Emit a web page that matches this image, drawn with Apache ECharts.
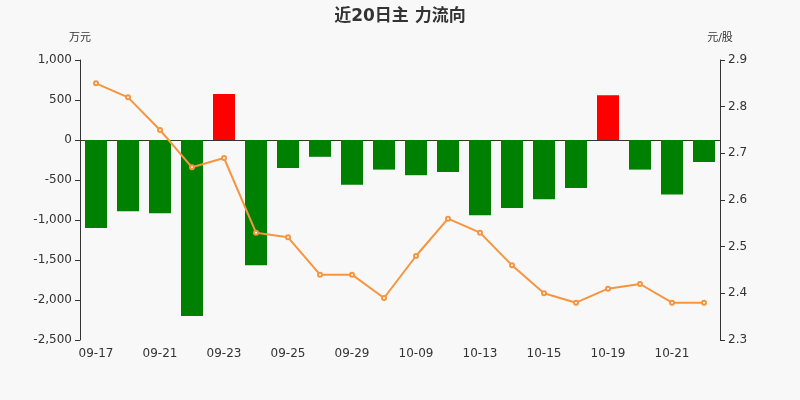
<!DOCTYPE html>
<html>
<head>
<meta charset="utf-8">
<script src="https://cdn.jsdelivr.net/npm/echarts@6/dist/echarts.min.js"></script>
<style>html,body{margin:0;padding:0;background:#f8f8f8;}#c{width:800px;height:400px;}</style>
</head>
<body>
<div id="c"></div>
<script>
var categories = ['09-17','09-18','09-21','09-22','09-23','09-24','09-25','09-28','09-29','09-30','10-09','10-12','10-13','10-14','10-15','10-16','10-19','10-20','10-21','10-22'];
var flowValues = [-1100,-890,-915,-2200,575,-1565,-350,-210,-560,-370,-440,-400,-940,-850,-740,-600,560,-370,-680,-275];
var priceValues = [2.85,2.82,2.75,2.67,2.69,2.53,2.52,2.44,2.44,2.39,2.48,2.56,2.53,2.46,2.40,2.38,2.41,2.42,2.38,2.38];

var chart = echarts.init(document.getElementById('c'));
var textColor = '#333';
var ff = 'DejaVu Sans, Noto Sans CJK SC, sans-serif';
chart.setOption({
  backgroundColor: '#f8f8f8',
  animation: false,
  textStyle: { fontFamily: ff },
  title: {
    text: '近20日主 力流向',
    left: 'center',
    top: 3,
    textStyle: { fontSize: 17, fontWeight: 'bold', color: '#333', fontFamily: ff }
  },
  grid: { left: 80, right: 80, top: 60, bottom: 60 },
  xAxis: [{
    type: 'category',
    data: categories,
    axisLine: { onZero: true, lineStyle: { color: '#333' } },
    axisTick: { interval: 1, lineStyle: { color: '#333' } },
    axisLabel: { show: false }
  }, {
    type: 'category',
    data: categories,
    position: 'bottom',
    axisLine: { show: false, onZero: false },
    axisTick: { show: false },
    axisLabel: { interval: 1, color: textColor, fontSize: 12, margin: 8, fontFamily: ff }
  }],
  yAxis: [{
    type: 'value',
    name: '万元',
    nameGap: 16,
    nameTextStyle: { color: textColor, fontSize: 11, align: 'center', fontFamily: ff },
    min: -2500, max: 1000, interval: 500,
    axisLine: { show: true, lineStyle: { color: '#333' } },
    axisTick: { show: true },
    splitLine: { show: false },
    axisLabel: { color: textColor, fontSize: 12, fontFamily: ff }
  }, {
    type: 'value',
    name: '元/股',
    nameGap: 16,
    nameTextStyle: { color: textColor, fontSize: 11, align: 'center', fontFamily: ff },
    min: 2.3, max: 2.9, interval: 0.1,
    position: 'right',
    axisLine: { show: true, lineStyle: { color: '#333' } },
    axisTick: { show: true },
    splitLine: { show: false },
    axisLabel: { color: textColor, fontSize: 12, fontFamily: ff, formatter: function (v) { return v.toFixed(1); } }
  }],
  series: [{
    type: 'bar',
    xAxisIndex: 0,
    yAxisIndex: 0,
    data: flowValues,
    barWidth: 22,
    itemStyle: {
      color: function (p) { return p.value >= 0 ? '#ff0000' : '#008000'; }
    }
  }, {
    type: 'line',
    xAxisIndex: 0,
    yAxisIndex: 1,
    data: priceValues,
    symbol: 'emptyCircle',
    symbolSize: 4,
    lineStyle: { color: '#f7953f', width: 2 },
    itemStyle: { color: '#f7953f' }
  }]
});
</script>
</body>
</html>
